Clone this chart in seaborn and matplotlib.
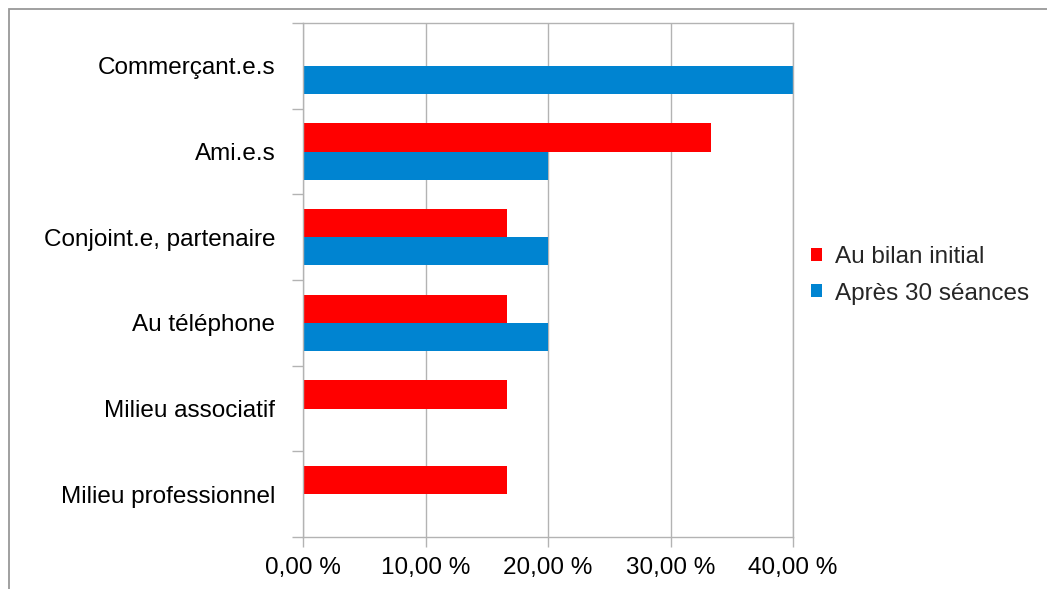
import matplotlib
matplotlib.use("Agg")
import matplotlib.pyplot as plt
from matplotlib.patches import Rectangle, Patch
from matplotlib.ticker import FuncFormatter
import seaborn as sns
import pandas as pd

categories = ["Commerçant.e.s", "Ami.e.s", "Conjoint.e, partenaire",
              "Au téléphone", "Milieu associatif", "Milieu professionnel"]
series_names = ["Au bilan initial", "Après 30 séances"]
initial_values = [0.0, 33.33, 16.67, 16.67, 16.67, 16.67]
after_values = [40.0, 20.0, 20.0, 20.0, 0.0, 0.0]
x_ticks = [0, 10, 20, 30, 40]
colors = ["#FF0000", "#0084D1"]

df = pd.DataFrame({
    "Catégorie": categories * 2,
    "Série": [series_names[0]] * len(categories) + [series_names[1]] * len(categories),
    "Valeur": initial_values + after_values,
})

sns.set_theme(style="white")
plt.rcParams["font.family"] = ["Liberation Sans", "DejaVu Sans"]
fs = 17.5

fig = plt.figure(figsize=(10.47, 5.89), dpi=100)
ax = fig.add_axes([303 / 1047, 1 - 537 / 589, 490 / 1047, 514 / 589])

sns.barplot(data=df, y="Catégorie", x="Valeur", hue="Série",
            order=categories, hue_order=series_names,
            palette=colors, orient="h", width=0.66, gap=0,
            saturation=1, ax=ax, legend=False, linewidth=0)

grid_c = "#b3b3b3"
ax.set_xlim(0, 40)
ax.set_ylim(len(categories) - 0.5, -0.5)
ax.set_xticks(x_ticks)
ax.xaxis.set_major_formatter(FuncFormatter(lambda v, p: f"{v:.2f}".replace(".", ",") + " %"))
ax.grid(axis="x", color=grid_c, linewidth=1)
ax.set_axisbelow(True)
ax.set_xlabel("")
ax.set_ylabel("")

for s in ax.spines.values():
    s.set_color(grid_c)
    s.set_linewidth(1)

ax.tick_params(axis="x", which="major", length=7.5, width=1, color=grid_c,
               pad=7, labelsize=fs, labelcolor="black", bottom=True)
ax.tick_params(axis="y", which="major", length=0, pad=20,
               labelsize=fs, labelcolor="black")
ax.set_yticks([i - 0.5 for i in range(len(categories) + 1)], minor=True)
ax.tick_params(axis="y", which="minor", length=8, width=1, color=grid_c, left=True)

handles = [Patch(facecolor=c, edgecolor="none") for c in colors]
fig.legend(handles, series_names, loc="center left",
           bbox_to_anchor=(801 / 1047, 1 - 275.5 / 589), frameon=False,
           borderaxespad=0, fontsize=fs, handlelength=0.45, handleheight=0.45,
           handletextpad=0.55, labelspacing=0.58)

fig.add_artist(Rectangle((9 / 1047, -0.1), 1.2, 1 - 9 / 589 + 0.1,
                         transform=fig.transFigure, fill=False,
                         edgecolor="#999999", linewidth=1.3))

fig.savefig("out.png", dpi=100, facecolor="white")
